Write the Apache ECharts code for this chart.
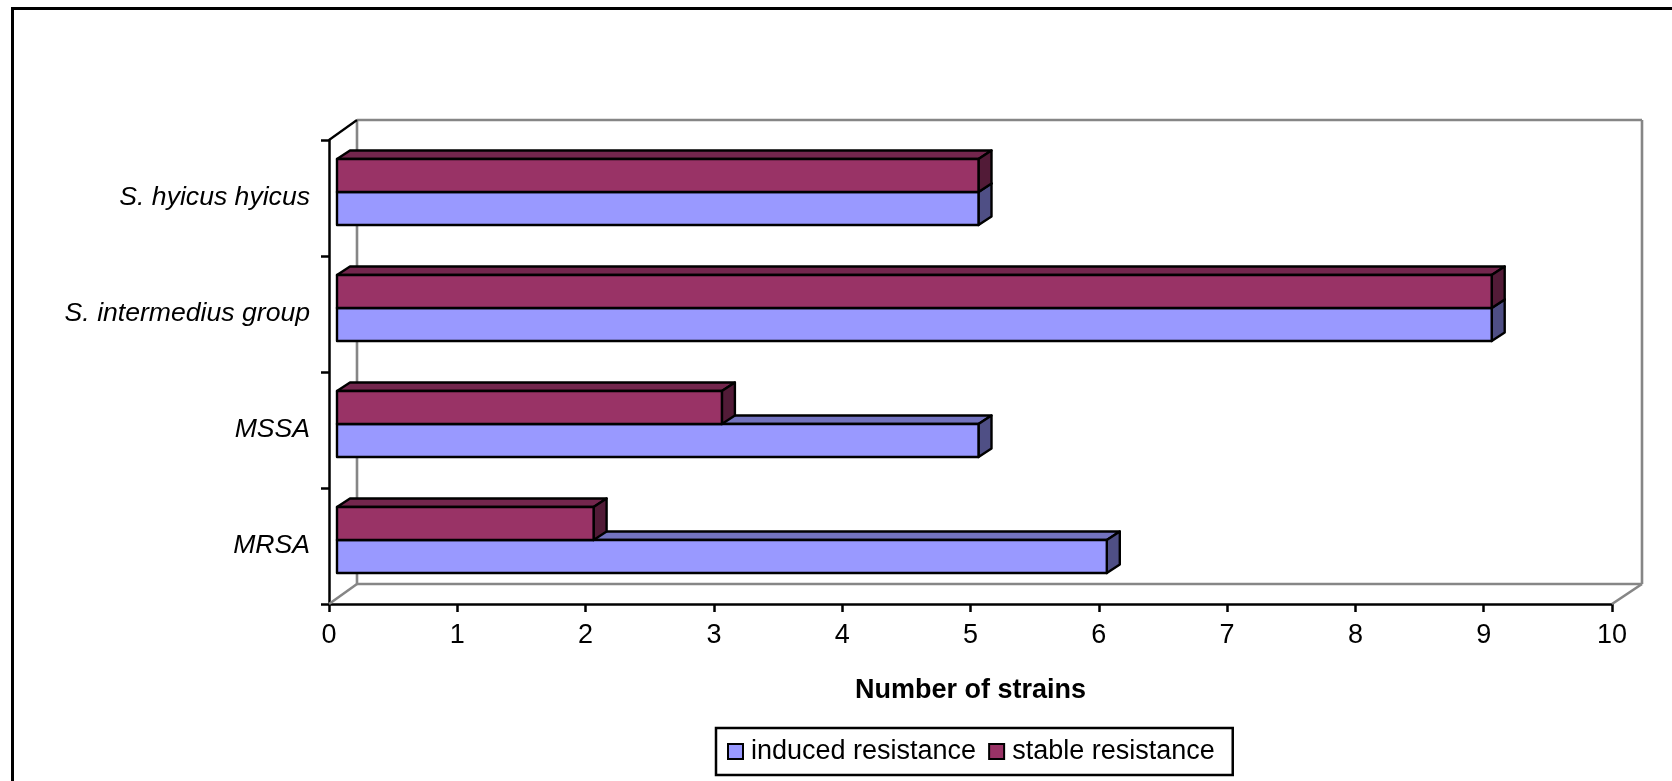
<!DOCTYPE html>
<html>
<head>
<meta charset="utf-8">
<style>html,body{margin:0;padding:0;background:#fff;overflow:hidden}#c{width:1672px;height:781px}</style>
<script src="https://cdn.jsdelivr.net/npm/echarts@6/dist/echarts.min.js"></script>
</head>
<body>
<div id="c"></div>
<script>
const categories = ['MRSA', 'MSSA', 'S. intermedius group', 'S. hyicus hyicus'];
const induced = [6, 5, 9, 5];
const stable = [2, 3, 9, 5];
const xTicks = {min: 0, max: 10, interval: 1};
const seriesNames = ['induced resistance', 'stable resistance'];
const colors = {
  induced: {front: '#9999ff', top: '#7373bf', side: '#4f4f85'},
  stable: {front: '#993366', top: '#73264d', side: '#521b37'}
};
const FONT = '"Liberation Sans", Arial, sans-serif';

// 3D depth of the wall and of the bars, in pixels
const wallDx = 28, wallDy = -20, barDx = 13, barDy = -8.5, barShiftX = 8;

function bar3d(palette, fromFrac, toFrac) {
  return function (params, api) {
    const v = api.value(0), cat = api.value(1);
    const c0 = api.coord([0, cat]), c1 = api.coord([v, cat]);
    const band = api.size([0, 1])[1];
    const x0 = c0[0] + barShiftX, x1 = c1[0] + barShiftX;
    const yT = c0[1] + band * fromFrac, yB = c0[1] + band * toFrac;
    const st = {stroke: '#000', lineWidth: 2.4, lineJoin: 'round'};
    const poly = (pts, fill) => ({type: 'polygon', shape: {points: pts}, style: Object.assign({fill: fill}, st)});
    return {type: 'group', children: [
      poly([[x0, yT], [x0 + barDx, yT + barDy], [x1 + barDx, yT + barDy], [x1, yT]], palette.top),
      poly([[x1, yT], [x1 + barDx, yT + barDy], [x1 + barDx, yB + barDy], [x1, yB]], palette.side),
      poly([[x0, yT], [x1, yT], [x1, yB], [x0, yB]], palette.front)
    ]};
  };
}

function walls(params, api) {
  const r = params.coordSys;
  const L = r.x, R = r.x + r.width, T = r.y, B = r.y + r.height;
  const gray = {stroke: '#868686', lineWidth: 2.6, fill: null};
  const line = (a, b, c, d, s) => ({type: 'line', shape: {x1: a, y1: b, x2: c, y2: d}, style: s});
  return {type: 'group', children: [
    line(L + wallDx, T + wallDy, R + wallDx + 2, T + wallDy, gray),
    line(L + wallDx, T + wallDy, L + wallDx, B + wallDy, gray),
    line(R + wallDx + 2, T + wallDy, R + wallDx + 2, B + wallDy, gray),
    line(L + wallDx, B + wallDy, R + wallDx + 2, B + wallDy, gray),
    line(L, B, L + wallDx, B + wallDy, gray),
    line(R, B, R + wallDx + 2, B + wallDy, gray),
    line(L, T, L + wallDx, T + wallDy, {stroke: '#000', lineWidth: 2.2})
  ]};
}

const chart = echarts.init(document.getElementById('c'), null, {renderer: 'canvas'});
chart.setOption({
  animation: false,
  backgroundColor: '#fff',
  graphic: [{
    type: 'rect', left: 10, top: 6, silent: true, z: -1,
    shape: {width: 1750, height: 850},
    style: {fill: null, stroke: '#000', lineWidth: 3}
  }],
  grid: {left: 329, top: 140, width: 1283, height: 464, containLabel: false},
  xAxis: {
    type: 'value', min: xTicks.min, max: xTicks.max, interval: xTicks.interval,
    name: 'Number of strains', nameLocation: 'middle', nameGap: 73,
    nameTextStyle: {fontFamily: FONT, fontWeight: 'bold', fontSize: 27, color: '#000'},
    axisLine: {show: true, lineStyle: {color: '#000', width: 2.5}},
    axisTick: {show: true, length: 8, lineStyle: {color: '#000', width: 2.5}},
    axisLabel: {fontFamily: FONT, fontSize: 27, color: '#000', margin: 18},
    splitLine: {show: false}
  },
  yAxis: {
    type: 'category', data: categories,
    axisLine: {show: true, lineStyle: {color: '#000', width: 2.5}},
    axisTick: {show: true, length: 8, alignWithLabel: false, lineStyle: {color: '#000', width: 2.5}},
    axisLabel: {fontFamily: FONT, fontSize: 26.6, fontStyle: 'italic', color: '#000', margin: 19, padding: [4, 0, 0, 0]},
    splitLine: {show: false}
  },
  legend: {
    data: seriesNames, left: 716, top: 728, orient: 'horizontal',
    itemWidth: 15, itemHeight: 15, itemGap: 12, padding: [10, 18, 10, 11],
    borderColor: '#000', borderWidth: 2.5, backgroundColor: '#fff',
    icon: 'rect',
    textStyle: {fontFamily: FONT, fontSize: 27, color: '#000', padding: [0, 0, 0, 3]}
  },
  series: [
    {type: 'custom', name: 'walls', silent: true, z: 1, renderItem: walls, data: [[0, 0]], encode: {x: 0, y: 1}},
    {type: 'custom', name: seriesNames[0], z: 2, renderItem: bar3d(colors.induced, -6 / 116, 27 / 116),
     itemStyle: {color: colors.induced.front, borderColor: '#000', borderWidth: 2},
     encode: {x: 0, y: 1}, data: induced.map((v, i) => [v, i])},
    {type: 'custom', name: seriesNames[1], z: 3, renderItem: bar3d(colors.stable, -39 / 116, -6 / 116),
     itemStyle: {color: colors.stable.front, borderColor: '#000', borderWidth: 2},
     encode: {x: 0, y: 1}, data: stable.map((v, i) => [v, i])}
  ]
});
</script>
</body>
</html>
